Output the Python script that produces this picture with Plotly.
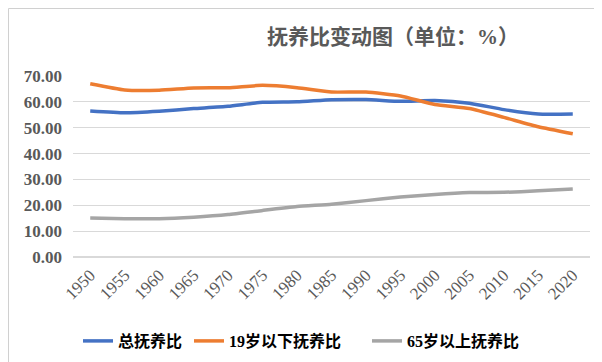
import plotly.graph_objects as go

years = ["1950", "1955", "1960", "1965", "1970", "1975", "1980", "1985",
         "1990", "1995", "2000", "2005", "2010", "2015", "2020"]
total_ratio = [56.5, 55.8, 56.4, 57.4, 58.3, 59.8, 60.0, 60.8, 60.9, 60.2, 60.5, 59.5, 57.0, 55.3, 55.3]
young_ratio = [67.0, 64.6, 64.5, 65.4, 65.5, 66.4, 65.5, 63.8, 63.8, 62.3, 59.0, 57.4, 54.0, 50.4, 47.7]
old_ratio = [15.1, 14.8, 14.8, 15.4, 16.4, 18.0, 19.5, 20.4, 21.8, 23.2, 24.2, 24.9, 25.0, 25.6, 26.3]

names = ["总抚养比", "19岁以下抚养比", "65岁以上抚养比"]
colors = ["#4472C4", "#ED7D31", "#A5A5A5"]

W, H = 602, 362
L, R, T, B = 65, 20, 68, 113
pw, ph = W - L - R, H - T - B

num_font = "Liberation Serif, Tinos, Times New Roman, DejaVu Serif, serif"
mix_font = "Liberation Serif, Tinos, Times New Roman, Noto Sans CJK SC, serif"

legend_x_px = [70, 181, 359]
legend_y_px = 333

fig = go.Figure()
for i, (n, v, c) in enumerate(zip(names, [total_ratio, young_ratio, old_ratio], colors)):
    fig.add_trace(go.Scatter(x=years, y=v, name="<b>" + n + "</b>", mode="lines",
                             legend="legend" if i == 0 else f"legend{i+1}",
                             line=dict(color=c, width=3.5, shape="spline", smoothing=0.5)))

legends = {}
for i, xp in enumerate(legend_x_px):
    key = "legend" if i == 0 else f"legend{i+1}"
    legends[key] = dict(orientation="h", x=(xp - L) / pw, xanchor="left",
                        y=-(legend_y_px - (T + ph)) / ph, yanchor="middle",
                        font=dict(family=mix_font, size=16, color="#000000"),
                        bgcolor="rgba(0,0,0,0)", borderwidth=0)

fig.update_layout(
    width=W, height=H,
    margin=dict(l=L, r=R, t=T, b=B),
    paper_bgcolor="white", plot_bgcolor="white",
    title=dict(text="<b>抚养比变动图（单位：%）</b>", x=385 / W, xanchor="center",
               y=1 - 29 / H, yanchor="middle",
               font=dict(family=mix_font, size=21, color="#595959")),
    showlegend=True,
    xaxis=dict(type="category", range=[-0.5, len(years) - 0.5], tickangle=-45,
               showgrid=False, showline=False, ticks="", ticklabelstandoff=4,
               tickfont=dict(family=num_font, size=17, color="#595959")),
    yaxis=dict(range=[0, 70], dtick=10, tickformat=".2f", showgrid=True,
               gridcolor="#D9D9D9", gridwidth=1, zeroline=True, zerolinecolor="#D9D9D9",
               showline=False, ticks="", ticklabelstandoff=10,
               tickfont=dict(family=num_font, size=17, color="#595959", weight="bold")),
    **legends,
)

# outer border of chart area
fig.add_shape(type="rect", xref="paper", yref="paper",
              x0=(0.5 - L) / pw, x1=(W - 1.5 - L) / pw,
              y0=-(H - 1.5 - (T + ph)) / ph, y1=1 + (T - 0.5) / ph,
              line=dict(color="#D0D0D0", width=1), layer="above")

fig.write_html("out.html")
